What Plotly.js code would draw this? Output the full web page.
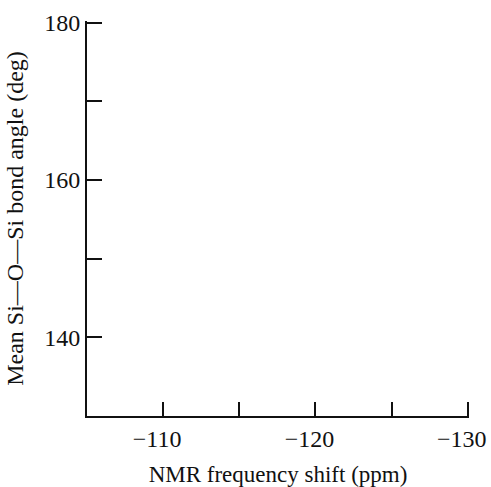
<!DOCTYPE html>
<html>
<head>
<meta charset="utf-8">
<script src="https://cdn.plot.ly/plotly-3.0.1.min.js"></script>
<style>html,body{margin:0;padding:0;background:#fff;}#chart{width:491px;height:487px;}</style>
</head>
<body>
<div id="chart"></div>
<script>
// The reference shows empty axes: no data marks.
const nmrShift = [];
const siOSiAngle = [];
const xTickVals = [-110, -115, -120, -125, -130];
const xTickText = ['\u2212110', '', '\u2212120', '', '\u2212130'];
const yTickVals = [140, 150, 160, 170, 180];
const yTickText = ['140', '', '160', '', '180'];

const font = 'Liberation Serif, Times New Roman, serif';

const trace = {
  x: nmrShift, y: siOSiAngle, type: 'scatter', mode: 'markers',
  marker: {color: '#000', size: 6}, showlegend: false, hoverinfo: 'skip'
};

const layout = {
  width: 491, height: 487,
  margin: {l: 87, r: 22, t: 21, b: 71},
  paper_bgcolor: '#fff', plot_bgcolor: '#fff',
  font: {family: font, color: '#111', size: 24},
  xaxis: {
    range: [-105, -130.08], autorange: false,
    tickmode: 'array', tickvals: xTickVals, ticktext: xTickText,
    ticks: 'inside', ticklen: 14, tickwidth: 2, tickcolor: '#111',
    showline: true, linecolor: '#111', linewidth: 2, mirror: false,
    showgrid: false, zeroline: false,
    ticklabeloverflow: 'allow', ticklabelshift: 6,
    tickfont: {family: font, size: 24, color: '#111'},
    title: {text: 'NMR frequency shift (ppm)', font: {family: font, size: 23, color: '#111'}, standoff: 16},
    automargin: false
  },
  yaxis: {
    range: [130, 180.2], autorange: false,
    tickmode: 'array', tickvals: yTickVals, ticktext: yTickText,
    ticks: 'inside', ticklen: 15, tickwidth: 2, tickcolor: '#111',
    showline: true, linecolor: '#111', linewidth: 2, mirror: false,
    showgrid: false, zeroline: false,
    ticklabeloverflow: 'allow',
    tickfont: {family: font, size: 24, color: '#111'},
    title: {text: 'Mean Si\u2014O\u2014Si bond angle (deg)', font: {family: font, size: 24, color: '#111'}, standoff: 14},
    automargin: false
  }
};

Plotly.newPlot('chart', [trace], layout, {displayModeBar: false, staticPlot: true});
</script>
</body>
</html>
